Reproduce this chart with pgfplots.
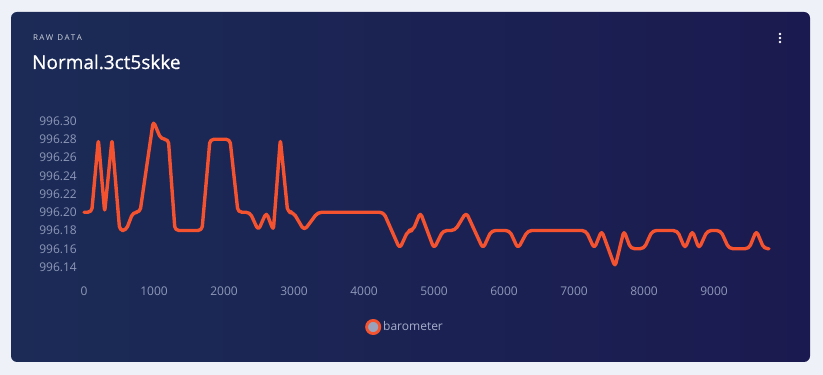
\documentclass[border=0pt]{standalone}
\usepackage{pgfplots}
\pgfplotsset{compat=1.18}
\usepackage{fontspec}
\setmainfont{Open Sans}
\newfontfamily\titlefont{Open Sans}[FakeBold=0.7]
\definecolor{pagebg}{HTML}{EFF1F8}
\definecolor{cardL}{HTML}{1B2B56}
\definecolor{cardR}{HTML}{1B1A50}
\definecolor{lineC}{HTML}{F5532F}
\definecolor{tickC}{HTML}{8E98B8}
\definecolor{legC}{HTML}{A7AECB}
\definecolor{legFill}{HTML}{9AA3BB}
\begin{document}
\begin{tikzpicture}[x=1pt,y=1pt]
\fill[pagebg] (0,0) rectangle (823,375);
\shade[rounded corners=6pt, left color=cardL, right color=cardR] (11,13) rectangle (810,363);
\node[anchor=base west, inner sep=0pt, text=white!80!cardL, font=\fontsize{8}{9}\selectfont] at (33,334) {R\,A\,W\ \ D\,A\,T\,A};
\node[anchor=base west, inner sep=0pt, text=white, font=\titlefont\fontsize{19}{22}\selectfont] at (32,306) {Normal.3ct5skke};
\foreach \yy in {333,337,341} {\fill[white] (780,\yy) circle (1.3);}
\begin{axis}[
  at={(84pt,108pt)}, anchor=south west,
  scale only axis, width=686pt, height=146pt,
  xmin=0, xmax=9800, ymin=996.14, ymax=996.30,
  clip=false,
  axis line style={draw=none},
  major tick style={draw=none}, minor tick style={draw=none},
  xtick={0,1000,...,9000},
  ytick={996.14,996.16,996.18,996.20,996.22,996.24,996.26,996.28,996.30},
  /pgf/number format/assume math mode=true,
  xticklabel style={anchor=north, inner sep=0pt, yshift=-20pt, text=tickC, font=\fontsize{12}{14}\selectfont, /pgf/number format/.cd, fixed, 1000 sep={}},
  yticklabel style={anchor=east, inner sep=0pt, xshift=-7pt, text=tickC, font=\fontsize{12}{14}\selectfont, /pgf/number format/.cd, fixed, fixed zerofill, precision=2},
  scaled y ticks=false, scaled x ticks=false,
  legend style={at={(0.468,-0.411)}, anchor=center, draw=none, fill=none, text=legC, font=\fontsize{12}{14}\selectfont},
  legend cell align=left,
]
\addplot[lineC, line width=3.4pt, sharp plot, rounded corners=4pt, line join=round, line cap=round,
  legend image code/.code={\draw[fill=legFill, draw=lineC, line width=2.8pt] (0.4em,0) circle (6.6pt);}]
coordinates {
(0,996.20) (110,996.20)
(205,996.28)
(295,996.20)
(400,996.28)
(510,996.18) (600,996.18)
(700,996.20) (800,996.20)
(990,996.30)
(1100,996.28) (1205,996.28)
(1300,996.18) (1685,996.18)
(1800,996.28) (2085,996.28)
(2200,996.20) (2370,996.20)
(2490,996.18)
(2605,996.20)
(2705,996.18)
(2805,996.28)
(2910,996.20) (2990,996.20)
(3145,996.18)
(3340,996.20) (4280,996.20)
(4510,996.16)
(4630,996.18) (4700,996.18)
(4805,996.20)
(5000,996.16)
(5130,996.18) (5300,996.18)
(5460,996.20)
(5700,996.16)
(5820,996.18) (6080,996.18)
(6200,996.16)
(6340,996.18) (7170,996.18)
(7290,996.16)
(7395,996.18)
(7586,996.14)
(7714,996.18)
(7810,996.16) (8000,996.16)
(8120,996.18) (8476,996.18)
(8586,996.16)
(8690,996.18)
(8786,996.16)
(8905,996.18) (9095,996.18)
(9214,996.16) (9500,996.16)
(9605,996.18)
(9714,996.16) (9786,996.16)
};
\addlegendentry{barometer}
\end{axis}
\end{tikzpicture}
\end{document}
